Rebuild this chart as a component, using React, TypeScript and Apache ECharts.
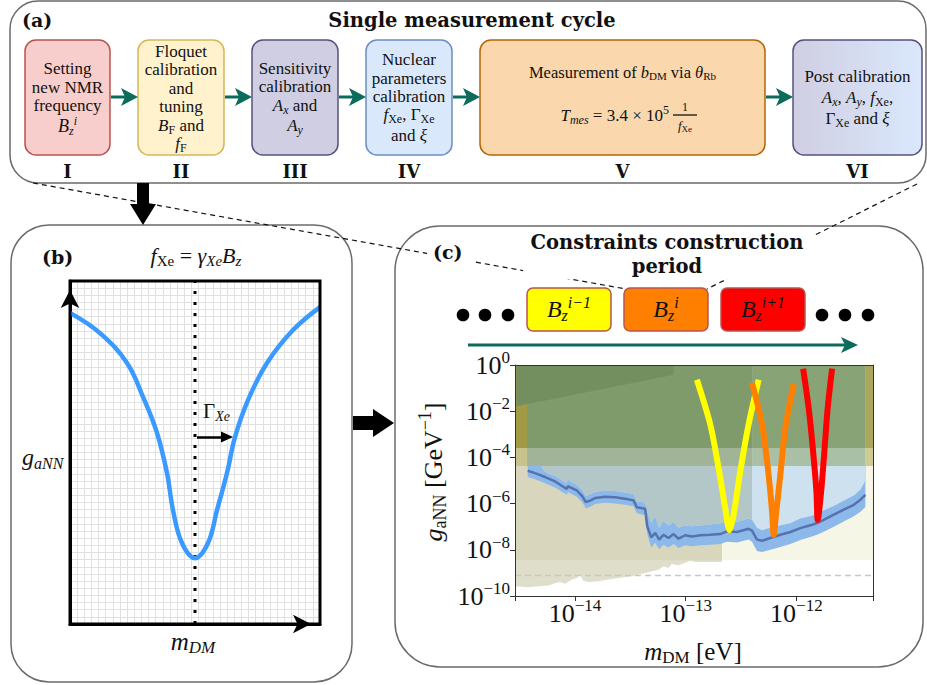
import React, { useEffect, useRef } from 'react';
import * as echarts from 'echarts';

const W = 927;
const H = 685;

// ---------------- Panel (b): schematic resonance (arbitrary units 0..100) ----------------
const resonanceMass = [0, 12, 22.8, 29.2, 34.8, 38.8, 41.2, 44.8, 50, 55.2, 58.8, 62.8, 66, 71.2, 78.8, 89.2, 100];
const resonanceCoupling = [90.7, 84.8, 76.1, 66.2, 55.7, 44.0, 33.2, 23.6, 19.2, 23.6, 33.2, 44.0, 54.5, 65.3, 76.1, 85.7, 92.4];
const resonanceCenterMass = [50, 50];
const resonanceCenterSpan = [0, 100];
const gammaArrowMass = [50.8, 62.8];
const gammaArrowCoupling = [54.5, 54.5];

// ---------------- Panel (c): constraints, log10 units ----------------
const massTickExps = [-14, -13, -12];
const couplingTickExps = [-10, -8, -6, -4, -2, 0];

// measured band (log10 m_DM [eV], log10 g_aNN [GeV^-1])
const bandLogM = [
  -14.428, -14.362, -14.271, -14.181, -14.075, -14.066, -14.030, -13.985, -13.934, -13.903,
  -13.864, -13.819, -13.729, -13.638, -13.548, -13.472, -13.442, -13.367, -13.348, -13.312,
  -13.276, -13.240, -13.201, -13.156, -13.110, -13.065, -13.005, -12.944, -12.869, -12.778,
  -12.688, -12.627, -12.537, -12.432, -12.401, -12.356, -12.310, -12.235, -12.145, -12.054,
  -11.964, -11.873, -11.813, -11.753, -11.662, -11.572, -11.481, -11.421, -11.376,
];
const bandCenterLogG = [
  -4.58, -4.68, -4.85, -5.04, -5.37, -5.24, -5.33, -5.43, -5.69, -5.93,
  -5.87, -5.76, -5.70, -5.73, -5.79, -5.86, -6.16, -6.22, -6.98, -7.46,
  -7.27, -7.56, -7.35, -7.49, -7.32, -7.52, -7.37, -7.42, -7.37, -7.35,
  -7.32, -7.20, -7.23, -7.09, -7.17, -7.56, -7.61, -7.49, -7.35, -7.23,
  -7.06, -6.94, -6.84, -6.70, -6.48, -6.26, -6.05, -5.83, -5.62,
];
const bandUpperLogG = [
  -4.30, -4.05, -4.62, -4.80, -5.12, -4.95, -5.08, -5.18, -5.42, -5.68,
  -5.60, -5.50, -5.42, -5.45, -5.52, -5.58, -5.90, -5.95, -6.35, -6.85,
  -6.55, -7.05, -6.75, -6.95, -6.80, -7.05, -6.95, -6.98, -6.95, -6.90,
  -6.85, -6.75, -6.80, -6.65, -6.70, -7.05, -7.15, -7.05, -6.95, -6.85,
  -6.65, -6.55, -6.45, -6.30, -6.10, -5.88, -5.65, -5.40, -5.00,
];
const bandLowerLogG = [
  -4.85, -4.95, -5.12, -5.30, -5.62, -5.50, -5.58, -5.70, -5.95, -6.20,
  -6.15, -6.02, -5.96, -6.00, -6.05, -6.12, -6.42, -6.50, -7.30, -7.90,
  -7.70, -7.98, -7.78, -7.90, -7.75, -7.92, -7.80, -7.85, -7.80, -7.78,
  -7.75, -7.65, -7.68, -7.55, -7.65, -8.05, -8.10, -8.00, -7.88, -7.75,
  -7.58, -7.45, -7.35, -7.22, -7.00, -6.78, -6.55, -6.35, -6.15,
];
const grayExclusionMaxLogM = -12.40;

// excluded region lower boundary (wavy)
const beigeLogM = [
  -14.543, -14.423, -14.332, -14.242, -14.181, -14.136, -14.090, -14.030, -13.985, -13.955,
  -13.925, -13.880, -13.789, -13.699, -13.608, -13.487, -13.367, -13.246, -13.201, -13.156,
  -13.125, -13.065, -13.005, -12.959, -12.914, -12.672,
];
const beigeLogG = [
  -9.58, -9.62, -9.58, -9.55, -9.44, -9.39, -9.47, -9.29, -9.22, -9.08,
  -9.34, -9.39, -9.36, -9.29, -9.22, -9.15, -9.00, -8.86, -8.71, -8.79,
  -8.62, -8.67, -8.56, -8.47, -8.53, -8.53,
];
const creamLogM = [-14.543, -11.303];
const creamLogG = -8.45;
const beigeDarkLogM = [-14.543, -12.672];
const stripEdgesLogM = [-14.543, -14.434, -12.40, -11.376, -11.303];
const greenLowerLogG = -4.372;
const greenUpperLogG = -3.593;
const slantLogM = [-14.53, -13.11];
const slantLogG = [-1.79, -0.42];
const dashedLevelLogG = -9.1;

// resonances of three consecutive B_z settings
const yellowLogM = [-12.899, -12.778, -12.703, -12.643, -12.604, -12.567, -12.507, -12.432, -12.341];
const yellowLogG = [-0.64, -2.58, -4.46, -6.19, -7.15, -6.48, -4.60, -2.58, -0.64];
const orangeLogM = [-12.401, -12.310, -12.251, -12.220, -12.205, -12.181, -12.145, -12.100, -12.024];
const orangeLogG = [-0.78, -2.58, -4.75, -6.33, -7.35, -6.33, -4.75, -2.73, -0.82];
const redLogM = [-11.939, -11.889, -11.849, -11.819, -11.807, -11.776, -11.747, -11.717, -11.677];
const redLogG = [-0.16, -1.86, -3.74, -5.47, -6.70, -5.47, -3.74, -1.86, -0.16];

// ---------------- Texts ----------------
const stepNumerals = ['I', 'II', 'III', 'IV', 'V', 'VI'];
const stepLines = [
  ['Setting', 'new NMR', 'frequency', '{i|B}{si|z}{pi|i}'],
  ['Floquet', 'calibration', 'and', 'tuning', '{i|B}{s|F} and', '{i|f}{s|F}'],
  ['Sensitivity', 'calibration', '{i|A}{si|x} and', '{i|A}{si|y}'],
  ['Nuclear', 'parameters', 'calibration', '{i|f}{s|Xe}, Γ{s|Xe}', 'and {i|ξ}'],
  ['Measurement of {i|b}{s|DM} via {i|θ}{s|Rb}'],
  ['Post calibration', '{i|A}{si|x}, {i|A}{si|y}, {i|f}{s|Xe},', 'Γ{s|Xe} and {i|ξ}'],
];
const periodBoxLabels = ['{i|B}{si|z}{pi|i\u22121}', '{i|B}{si|z}{pi|i}', '{i|B}{si|z}{pi|i+1}'];

// ---------------- Styles ----------------
const SERIF = '"Liberation Serif", "Times New Roman", serif';
const BOLD = '"DejaVu Serif", serif';
const INK = '#111';
const TEAL = '#0c6b5b';

function rich(S: number) {
  const k = Math.round(S * 0.68);
  const b = { fontFamily: SERIF, fill: INK, color: INK, verticalAlign: 'middle' };
  const sub = [Math.round(S * 0.5), 0, 0, 0];
  const sup = [0, 0, Math.round(S * 0.6), 0];
  return {
    i: { ...b, fontSize: S, fontStyle: 'italic', lineHeight: S },
    s: { ...b, fontSize: k, lineHeight: k, padding: sub },
    si: { ...b, fontSize: k, fontStyle: 'italic', lineHeight: k, padding: sub },
    p: { ...b, fontSize: k, lineHeight: k, padding: sup },
    pi: { ...b, fontSize: k, fontStyle: 'italic', lineHeight: k, padding: sup },
  };
}

function tx(text: string, x: number, y: number, S: number, o: any = {}) {
  const align = o.align || 'center';
  return {
    type: 'text',
    x,
    y,
    z: o.z ?? 20,
    rotation: o.rotation || 0,
    style: {
      text,
      x: 0,
      y: 0,
      fontFamily: o.bold ? BOLD : SERIF,
      fontWeight: o.bold ? 'bold' : 'normal',
      fontStyle: o.italic ? 'italic' : 'normal',
      fontSize: S,
      lineHeight: S,
      fill: INK,
      align,
      textAlign: align,
      verticalAlign: 'middle',
      textVerticalAlign: 'middle',
      rich: rich(S),
    },
  };
}

function rrect(x: number, y: number, w: number, h: number, r: number, fill: any, stroke: string, lw: number, z: number) {
  return { type: 'rect', z, shape: { x, y, width: w, height: h, r }, style: { fill, stroke, lineWidth: lw } };
}

function tealArrow(g: any[], x1: number, x2: number, y: number, head = 17, half = 9) {
  g.push({ type: 'line', z: 5, shape: { x1, y1: y, x2: x2 - head + 4, y2: y }, style: { stroke: TEAL, lineWidth: 3 } });
  g.push({
    type: 'polygon',
    z: 5,
    shape: { points: [[x2, y], [x2 - head, y - half], [x2 - head + 4, y], [x2 - head, y + half]] },
    style: { fill: TEAL },
  });
}

const boxGeom = [
  [25, 40, 85, 115],
  [138, 40, 86, 115],
  [252, 40, 86, 115],
  [366, 40, 86, 115],
  [480, 40, 285, 115],
  [793, 40, 129, 115],
];
const boxLineY = [
  [68, 87, 105, 126],
  [51, 69, 88, 106, 125, 143],
  [68, 86, 105, 125],
  [59, 78, 96, 114, 135],
  [72],
  [76, 97, 118],
];
const boxFill: any[] = [
  '#f8cecc',
  '#fff2cc',
  '#d0cee2',
  '#dae8fc',
  '#fad7ac',
  { type: 'linear', x: 0, y: 0, x2: 1, y2: 0, colorStops: [{ offset: 0, color: '#d0cee2' }, { offset: 1, color: '#dae8fc' }] },
];
const boxStroke = ['#b85450', '#d6b656', '#56517e', '#6c8ebf', '#b46504', '#56517e'];

const GB = { left: 70, top: 281, width: 250, height: 343 };
const GC = { left: 515, top: 365, width: 358.5, height: 231 };

function pairs(xs: number[], ys: number[] | number) {
  return xs.map((x, i) => [x, Array.isArray(ys) ? ys[i] : ys]);
}

function fillTop(data: number[][], color: string) {
  return {
    type: 'line',
    xAxisIndex: 1,
    yAxisIndex: 1,
    data,
    symbol: 'none',
    showSymbol: false,
    silent: true,
    lineStyle: { width: 0, opacity: 0 },
    areaStyle: { origin: 'end', color, opacity: 1 },
  };
}

function curve(xs: number[], ys: number[], color: string) {
  return {
    type: 'line',
    xAxisIndex: 1,
    yAxisIndex: 1,
    data: pairs(xs, ys),
    symbol: 'none',
    smooth: 0.3,
    silent: true,
    lineStyle: { color, width: 6, cap: 'butt' },
  };
}

function expLabel(ticks: number[]) {
  return (v: number) => {
    const r = Math.round(v);
    if (Math.abs(v - r) > 1e-6 || ticks.indexOf(r) < 0) return '';
    return '10{p|' + (r < 0 ? '\u2212' + -r : String(r)) + '}';
  };
}

const tickLabelStyle = {
  fontFamily: SERIF,
  fontSize: 26,
  lineHeight: 26,
  color: INK,
  rich: { p: { fontFamily: SERIF, fontSize: 17, lineHeight: 17, padding: [0, 0, 15, 0], color: INK } },
};

function buildOption() {
  const g: any[] = [];
  // panels
  g.push(rrect(10, 1, 916, 182, 28, '#fff', '#6b6b6b', 1.5, 0));
  g.push(rrect(11, 225, 341, 457, 38, '#fff', '#6b6b6b', 1.5, 0));
  g.push(rrect(395, 226, 528, 441, 45, '#fff', '#6b6b6b', 1.5, 0));
  // dashed connectors
  g.push({ type: 'line', z: 1, shape: { x1: 33, y1: 183, x2: 626, y2: 289 }, style: { stroke: '#111', lineWidth: 1.2, lineDash: [5, 4] } });
  g.push({ type: 'line', z: 1, shape: { x1: 917, y1: 184, x2: 707, y2: 289 }, style: { stroke: '#111', lineWidth: 1.2, lineDash: [5, 4] } });

  // panel (a)
  g.push(tx('(a)', 22, 20, 19, { bold: true, align: 'left' }));
  g.push(tx('Single measurement cycle', 472, 20, 19.5, { bold: true }));
  boxGeom.forEach((b, k) => {
    g.push(rrect(b[0], b[1], b[2], b[3], 11, boxFill[k], boxStroke[k], 1.5, 3));
    const cx = b[0] + b[2] / 2;
    stepLines[k].forEach((line, j) => g.push(tx(line, cx, boxLineY[k][j], k === 4 ? 16.5 : k === 0 && j === 3 ? 18 : 17)));
    g.push(tx(stepNumerals[k], cx, 171, 18, { bold: true }));
  });
  // box V formula
  g.push(tx('{i|T}{si|mes} = 3.4 × 10{p|5}', 669, 115, 17, { align: 'right' }));
  g.push(tx('1', 685, 107, 12));
  g.push({ type: 'line', z: 20, shape: { x1: 673, y1: 115, x2: 697, y2: 115 }, style: { stroke: INK, lineWidth: 1.3 } });
  g.push(tx('{i|f}{s|Xe}', 685, 125, 13));
  // teal arrows between steps
  for (let k = 0; k < 5; k++) tealArrow(g, boxGeom[k][0] + boxGeom[k][2] + 1, boxGeom[k + 1][0], 97);

  // black arrows
  g.push({
    type: 'polygon',
    z: 6,
    shape: { points: [[137, 183], [149, 183], [149, 204], [156, 204], [143, 225], [130, 204], [137, 204]] },
    style: { fill: '#000' },
  });
  g.push({
    type: 'polygon',
    z: 6,
    shape: { points: [[353, 416], [373, 416], [373, 409], [394, 423], [373, 437], [373, 430], [353, 430]] },
    style: { fill: '#000' },
  });

  // panel (b)
  g.push(tx('(b)', 42, 257, 19, { bold: true, align: 'left' }));
  g.push(tx('{i|f}{s|Xe} = {i|γ}{si|Xe}{i|B}{si|z}', 196, 255, 22));
  g.push(tx('Γ{si|Xe}', 203, 411, 21, { align: 'left' }));
  g.push(tx('{i|g}{si|aNN}', 22, 457, 24, { align: 'left', z: 0.5 }));
  g.push(tx('{i|m}{si|DM}', 193, 641, 25));
  g.push({
    type: 'rect',
    z: 10,
    shape: { x: GB.left, y: GB.top, width: GB.width, height: GB.height },
    style: { fill: 'none', stroke: '#000', lineWidth: 3 },
  });

  // panel (c)
  g.push({ type: 'rect', z: 2, shape: { x: 523, y: 229, width: 292, height: 50 }, style: { fill: '#fff' } });
  g.push({ type: 'rect', z: 2, shape: { x: 427, y: 239, width: 46, height: 27 }, style: { fill: '#fff' } });
  g.push(tx('(c)', 433, 252, 19, { bold: true, align: 'left' }));
  g.push(tx('Constraints construction', 667, 242, 19.5, { bold: true }));
  g.push(tx('period', 667, 266, 19.5, { bold: true }));
  [463, 485, 508, 822, 845, 868].forEach((cx) =>
    g.push({ type: 'circle', z: 5, shape: { cx, cy: 315, r: 6.3 }, style: { fill: '#000' } })
  );
  const pb = [[527, '#ffff00'], [624, '#ff8000'], [721, '#ff0000']] as any[];
  pb.forEach((p, k) => {
    g.push(rrect(p[0], 288, 84, 43, 6, p[1], '#b85450', 1.5, 5));
    g.push(tx(periodBoxLabels[k], p[0] + 42, 309, 24));
  });
  tealArrow(g, 468, 858, 345, 17, 8);
  g.push(tx('{i|g}{s|aNN} [GeV{p|\u22121}]', 433, 472, 26, { rotation: Math.PI / 2 }));
  g.push(tx('{i|m}{s|DM} [eV]', 693, 651, 25));

  const series: any[] = [
    // panel (b)
    {
      type: 'line',
      xAxisIndex: 0,
      yAxisIndex: 0,
      data: pairs(resonanceCenterMass, resonanceCenterSpan),
      symbol: 'none',
      silent: true,
      lineStyle: { color: '#000', width: 3, type: [3, 8] },
    },
    {
      type: 'line',
      xAxisIndex: 0,
      yAxisIndex: 0,
      data: pairs(resonanceMass, resonanceCoupling),
      symbol: 'none',
      smooth: 0.4,
      silent: true,
      lineStyle: { color: '#3a9aff', width: 4.5 },
      markLine: {
        silent: true,
        symbol: ['none', 'triangle'],
        symbolSize: [11, 12],
        label: { show: false },
        lineStyle: { color: '#000', width: 2.5, type: 'solid' },
        data: [[{ coord: [gammaArrowMass[0], gammaArrowCoupling[0]] }, { coord: [gammaArrowMass[1], gammaArrowCoupling[1]] }]],
      },
    },
    // panel (c) regions
    fillTop(pairs(creamLogM, creamLogG), '#f6f6e7'),
    fillTop(pairs(beigeLogM, beigeLogG), '#dfdeca'),
    fillTop(pairs(beigeDarkLogM, creamLogG), '#d8d7bd'),
    fillTop(pairs(bandLogM, bandLowerLogG), '#8cb8ea'),
    fillTop(pairs(bandLogM, bandUpperLogG), '#cde2ee'),
    fillTop(pairs(bandLogM, bandUpperLogG).filter((p) => p[0] <= grayExclusionMaxLogM + 1e-9), '#b3c7c8'),
  ];
  const lightGreen = ['#c8c38c', '#a2b498', '#aac0a6', '#d0cb94'];
  const darkGreen = ['#a29a44', '#7f9a6b', '#88a477', '#aba65c'];
  for (let k = 0; k < 4; k++)
    series.push(fillTop(pairs([stripEdgesLogM[k], stripEdgesLogM[k + 1]], greenLowerLogG), lightGreen[k]));
  for (let k = 0; k < 4; k++)
    series.push(fillTop(pairs([stripEdgesLogM[k], stripEdgesLogM[k + 1]], greenUpperLogG), darkGreen[k]));
  series.push(fillTop(pairs(slantLogM, slantLogG), '#738f60'));
  series.push({
    type: 'line',
    xAxisIndex: 1,
    yAxisIndex: 1,
    data: pairs(bandLogM, bandCenterLogG),
    symbol: 'none',
    silent: true,
    lineStyle: { color: '#5673ad', width: 2.5 },
    markLine: {
      silent: true,
      symbol: 'none',
      label: { show: false },
      lineStyle: { color: '#c8c8c8', width: 1.3, type: [6, 4] },
      data: [{ yAxis: dashedLevelLogG }],
    },
  });
  series.push(curve(yellowLogM, yellowLogG, '#ffff00'));
  series.push(curve(orangeLogM, orangeLogG, '#ff8000'));
  series.push(curve(redLogM, redLogG, '#ff0000'));

  const hiddenAxis = {
    axisTick: { show: false },
    axisLabel: { show: false },
    splitLine: { show: false },
  };

  return {
    animation: false,
    backgroundColor: '#fff',
    textStyle: { fontFamily: SERIF },
    grid: [
      { ...GB, containLabel: false },
      { ...GC, containLabel: false },
    ],
    xAxis: [
      {
        type: 'value',
        gridIndex: 0,
        min: 0,
        max: 100,
        interval: 100 / 35,
        z: 1,
        axisLine: {
          show: true,
          onZero: false,
          symbol: ['none', 'arrow'],
          symbolSize: [14, 18],
          symbolOffset: [0, -9],
          lineStyle: { color: '#000', width: 3 },
        },
        axisTick: { show: false },
        axisLabel: { show: false },
        splitLine: { show: true, lineStyle: { color: '#e0e0e0', width: 1 } },
      },
      {
        type: 'value',
        gridIndex: 1,
        min: -14.543,
        max: -11.303,
        splitNumber: 3,
        minInterval: 1,
        z: 10,
        axisLine: { show: true, onZero: false, lineStyle: { color: '#333', width: 1 } },
        axisTick: { show: true, length: 5, lineStyle: { color: '#333' } },
        axisLabel: { ...tickLabelStyle, margin: 4, formatter: expLabel(massTickExps), hideOverlap: false },
        splitLine: { show: false },
      },
      {
        type: 'value',
        gridIndex: 1,
        position: 'top',
        min: -14.543,
        max: -11.303,
        z: 10,
        axisLine: { show: true, onZero: false, lineStyle: { color: '#333', width: 1 } },
        ...hiddenAxis,
      },
    ],
    yAxis: [
      {
        type: 'value',
        gridIndex: 0,
        min: 0,
        max: 100,
        interval: 100 / 48,
        z: 1,
        axisLine: {
          show: true,
          onZero: false,
          symbol: ['none', 'arrow'],
          symbolSize: [14, 18],
          symbolOffset: [0, -9],
          lineStyle: { color: '#000', width: 3 },
        },
        axisTick: { show: false },
        axisLabel: { show: false },
        splitLine: { show: true, lineStyle: { color: '#e0e0e0', width: 1 } },
      },
      {
        type: 'value',
        gridIndex: 1,
        min: -10,
        max: 0,
        interval: 2,
        z: 10,
        axisLine: { show: true, onZero: false, lineStyle: { color: '#333', width: 1 } },
        axisTick: { show: true, length: 5, lineStyle: { color: '#333' } },
        axisLabel: { ...tickLabelStyle, margin: 5, formatter: expLabel(couplingTickExps), hideOverlap: false },
        splitLine: { show: false },
      },
      {
        type: 'value',
        gridIndex: 1,
        position: 'right',
        min: -10,
        max: 0,
        z: 10,
        axisLine: { show: true, onZero: false, lineStyle: { color: '#333', width: 1 } },
        ...hiddenAxis,
      },
    ],
    graphic: { elements: g },
    series,
  };
}

export default function App() {
  const ref = useRef<HTMLDivElement>(null);
  useEffect(() => {
    document.body.style.margin = '0';
    const chart = echarts.init(ref.current!, null, { renderer: 'svg', width: W, height: H });
    chart.setOption(buildOption() as any);
    return () => chart.dispose();
  }, []);
  return <div ref={ref} style={{ width: W, height: H }} />;
}
